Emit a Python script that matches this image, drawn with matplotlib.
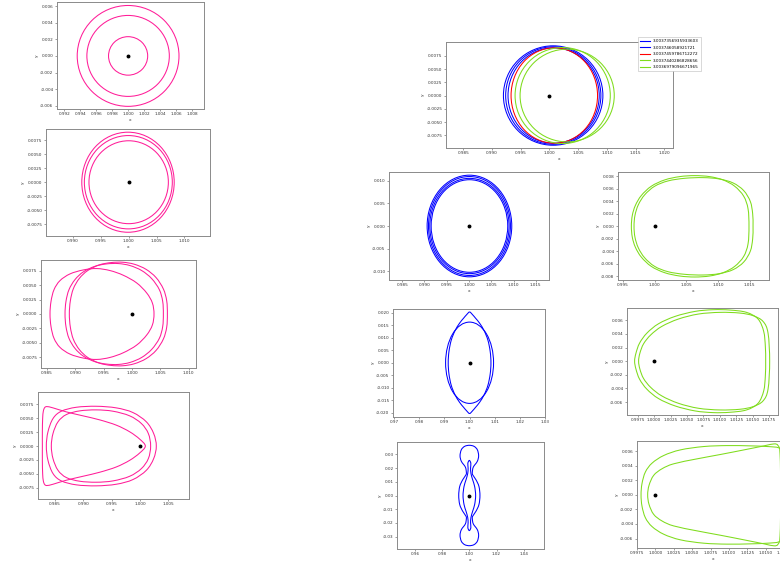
import numpy as np
import matplotlib
matplotlib.use("Agg")
import matplotlib.pyplot as plt
from matplotlib.path import Path
from matplotlib.patches import PathPatch, Ellipse
from matplotlib.lines import Line2D
from matplotlib.ticker import FormatStrFormatter

# ---- data ----
# rings are (centre x, semi-axis x, semi-axis y); loops are upper halves
# (left -> right, y >= 0), the lower half is the mirror image in y = 0

jacobi = ["3.0037356935933603", "3.003746058921721", "3.0037459786712272",
          "3.0037440286828656", "3.0036979096671965"]

# left column (pink)
p1_cx = [1.0, 1.0, 1.0]
p1_ax = [0.00245, 0.00516, 0.00637]
p1_ay = [0.00232, 0.00488, 0.00608]

p2_cx = [1.0, 0.99994, 0.99988]
p2_ax = [0.00713, 0.0079, 0.0083]
p2_ay = [0.0074, 0.00833, 0.00893]

p3_loop_x = [
    [0.98553, 0.98571, 0.98624, 0.98729, 0.98906, 0.99141, 0.99377, 0.99612, 0.99847, 1.00082, 1.00259, 1.00359, 1.00388],
    [0.98818, 0.98835, 0.98888, 0.98994, 0.99141, 0.99347, 0.99553, 0.99759, 0.99965, 1.00171, 1.00347, 1.00482, 1.00541, 1.00553],
    [0.98894, 0.98912, 0.98965, 0.99071, 0.99218, 0.99424, 0.99629, 0.99835, 1.00041, 1.00247, 1.00424, 1.00553, 1.00612, 1.00624],
]
p3_loop_y = [
    [0, 0.00221, 0.00424, 0.00581, 0.00698, 0.00767, 0.00791, 0.00756, 0.00674, 0.00541, 0.00366, 0.00192, 0],
    [0, 0.00221, 0.00424, 0.00599, 0.00733, 0.00831, 0.00872, 0.00878, 0.00843, 0.00756, 0.00616, 0.00424, 0.00221, 0],
    [0, 0.0023, 0.0044, 0.0062, 0.00756, 0.00855, 0.00895, 0.00901, 0.00866, 0.00778, 0.00634, 0.00436, 0.0023, 0],
]

p4_loop_x = [
    [0.98277, 0.98277, 0.98282, 0.98294, 0.98318, 0.98359, 0.98465, 0.987, 0.98994, 0.99288, 0.99582, 0.99818, 0.99994, 1.00094],
    [0.98347, 0.98376, 0.98465, 0.98612, 0.98876, 0.99229, 0.99582, 0.99876, 1.00112, 1.00241, 1.00288],
    [0.98435, 0.98465, 0.98553, 0.987, 0.98935, 0.99229, 0.99524, 0.99818, 1.00024, 1.00147, 1.00188],
]
p4_loop_y = [
    [0, 0.00256, 0.00494, 0.00625, 0.0069, 0.00708, 0.00685, 0.00613, 0.00542, 0.0047, 0.00375, 0.00256, 0.00125, 0],
    [0, 0.00256, 0.00494, 0.00625, 0.00696, 0.00714, 0.00685, 0.00601, 0.00435, 0.00226, 0],
    [0, 0.00226, 0.00435, 0.00565, 0.00631, 0.00649, 0.00625, 0.00542, 0.00405, 0.00226, 0],
]

# overlay with legend: ring -> legend entry
p5_cx = [1.00064, 1.00066, 1.00072, 1.00084, 1.0023, 1.00308]
p5_ax = [0.00866, 0.00829, 0.00794, 0.00753, 0.00829, 0.0082]
p5_ay = [0.00938, 0.0092, 0.009, 0.009, 0.00906, 0.00875]
p5_entry = [0, 0, 1, 2, 3, 4]

# middle column (blue)
p6_cx = [1.0001, 1.0001, 1.0001, 1.0001]
p6_ax = [0.0095, 0.0092, 0.0089, 0.0086]
p6_ay = [0.0112, 0.0109, 0.0105, 0.0102]

p8_cx = [1.0]
p8_ax = [0.00954]
p8_ay = [0.01626]
p8_loop_x = [[0.9915, 0.9918, 0.9927, 0.9942, 0.996, 0.9976, 0.9988, 1.0, 1.0012, 1.0024, 1.004, 1.0058, 1.0073, 1.0082, 1.0085]]
p8_loop_y = [[0, 0.0045, 0.009, 0.0128, 0.0158, 0.0178, 0.0192, 0.0203, 0.0192, 0.0178, 0.0158, 0.0128, 0.009, 0.0045, 0]]

p10_loop_x = [
    [0.9922, 0.99293, 0.99512, 0.99756, 0.9978, 0.99707, 0.99415, 0.99317, 0.99415, 0.99659, 1.0,
     1.00341, 1.00585, 1.00683, 1.00585, 1.00293, 1.0022, 1.00244, 1.00488, 1.00707, 1.0078],
    [0.99537, 0.9961, 0.99756, 0.9988, 0.9991, 0.9989, 1.0, 1.0011, 1.0009, 1.0012, 1.00244, 1.0039, 1.00463],
]
p10_loop_y = [
    [0, 0.00659, 0.01146, 0.01512, 0.0170, 0.02073, 0.02488, 0.029, 0.03341, 0.03585, 0.0366,
     0.03585, 0.03341, 0.029, 0.02488, 0.02073, 0.0170, 0.01512, 0.01146, 0.00659, 0],
    [0, 0.00659, 0.01146, 0.016, 0.02, 0.0235, 0.0256, 0.0235, 0.02, 0.016, 0.01146, 0.00659, 0],
]

# right column (green)
p7_loop_x = [
    [0.99632, 0.99647, 0.99695, 0.99789, 0.99947, 1.00158, 1.00395, 1.00632, 1.00868, 1.01079, 1.01263, 1.01405, 1.01474, 1.01489],
    [0.99674, 0.99689, 0.99742, 0.99842, 1.0, 1.00211, 1.00474, 1.00763, 1.01016, 1.01237, 1.01405, 1.0151, 1.01547, 1.01553],
]
p7_loop_y = [
    [0, 0.00175, 0.00334, 0.00493, 0.00642, 0.00743, 0.00796, 0.00812, 0.00796, 0.00743, 0.00642, 0.00483, 0.00281, 0],
    [0, 0.00175, 0.00345, 0.00504, 0.00642, 0.00727, 0.00769, 0.0078, 0.00759, 0.00695, 0.00573, 0.00398, 0.00202, 0],
]

p9_loop_x = [
    [0.99701, 0.99722, 0.99777, 0.99889, 1.00066, 1.00319, 1.00622, 1.00901, 1.01154, 1.01407, 1.01584, 1.0167, 1.01695, 1.017],
    [0.99762, 0.99782, 0.99838, 0.99949, 1.00116, 1.00369, 1.00673, 1.01002, 1.01305, 1.01508, 1.0166, 1.01736, 1.01761],
]
p9_loop_y = [
    [0, 0.00118, 0.00265, 0.00412, 0.00549, 0.00657, 0.0073, 0.00755, 0.0075, 0.00716, 0.00618, 0.00436, 0.00216, 0],
    [0, 0.00118, 0.00255, 0.00387, 0.0051, 0.00618, 0.00691, 0.00716, 0.00706, 0.00667, 0.00583, 0.00412, 0],
]

p11_loop_x = [
    [0.99805, 0.99818, 0.99864, 0.99955, 1.00114, 1.00341, 1.00659, 1.00977, 1.01295, 1.01523, 1.01682, 1.01795, 1.01841, 1.0185],
    [0.99895, 0.99914, 0.99977, 1.00091, 1.0025, 1.00568, 1.00886, 1.01205, 1.01477, 1.01614, 1.01668, 1.01695, 1.01705],
]
p11_loop_y = [
    [0, 0.00155, 0.00314, 0.00436, 0.00541, 0.00618, 0.00664, 0.00677, 0.00673, 0.00664, 0.00645, 0.00564, 0.00336, 0],
    [0, 0.00132, 0.00268, 0.00359, 0.00427, 0.00495, 0.00555, 0.00618, 0.00673, 0.0070, 0.00677, 0.00564, 0],
]

# tick values
p1_xt = [0.992, 0.994, 0.996, 0.998, 1.000, 1.002, 1.004, 1.006, 1.008]
p1_yt = [-0.006, -0.004, -0.002, 0.0, 0.002, 0.004, 0.006]
y75_t = [-0.0075, -0.005, -0.0025, 0.0, 0.0025, 0.005, 0.0075]
p2_xt = [0.990, 0.995, 1.000, 1.005, 1.010]
p3_xt = [0.985, 0.990, 0.995, 1.000, 1.005, 1.010]
p4_xt = [0.985, 0.990, 0.995, 1.000, 1.005]
p5_xt = [0.985, 0.990, 0.995, 1.000, 1.005, 1.010, 1.015, 1.020]
p6_xt = [0.985, 0.990, 0.995, 1.000, 1.005, 1.010, 1.015]
p6_yt = [-0.010, -0.005, 0.0, 0.005, 0.010]
p7_xt = [0.995, 1.000, 1.005, 1.010, 1.015]
p7_yt = [-0.008, -0.006, -0.004, -0.002, 0.0, 0.002, 0.004, 0.006, 0.008]
p8_xt = [0.97, 0.98, 0.99, 1.00, 1.01, 1.02, 1.03]
p8_yt = [-0.020, -0.015, -0.010, -0.005, 0.0, 0.005, 0.010, 0.015, 0.020]
p9_xt = [0.9975, 1.0, 1.0025, 1.005, 1.0075, 1.01, 1.0125, 1.015, 1.0175]
p9_yt = [-0.006, -0.004, -0.002, 0.0, 0.002, 0.004, 0.006]
p10_xt = [0.96, 0.98, 1.00, 1.02, 1.04]
p10_yt = [-0.03, -0.02, -0.01, 0.0, 0.01, 0.02, 0.03]

PINK = "#ff1d98"
BLUE = "#0000ff"
RED = "#ff0000"
GREEN = "#7fdc1c"
entry_colors = [BLUE, BLUE, RED, GREEN, GREEN]

W, H = 780, 566
fig = plt.figure(figsize=(W / 100, H / 100), dpi=100)


def closed_path(xs, ys):
    # mirror the upper half and run a smooth closed curve through the points
    px = list(xs) + list(xs[-2:0:-1])
    py = list(ys) + [-v for v in ys[-2:0:-1]]
    pts = np.column_stack([px, py])
    n = len(pts)
    verts = [pts[0]]
    codes = [Path.MOVETO]
    for i in range(n):
        p0, p1, p2, p3 = pts[i - 1], pts[i], pts[(i + 1) % n], pts[(i + 2) % n]
        verts += [p1 + (p2 - p0) / 6, p2 - (p3 - p1) / 6, p2]
        codes += [Path.CURVE4] * 3
    return Path(verts, codes)


def panel(box, xlim, ylim, xt, yt, xfmt, yfmt):
    l, t, r, b = box
    ax = fig.add_axes([l / W, 1 - b / H, (r - l) / W, (b - t) / H])
    ax.set_xlim(*xlim)
    ax.set_ylim(*ylim)
    ax.set_xticks(xt)
    ax.set_yticks(yt)
    ax.xaxis.set_major_formatter(FormatStrFormatter(xfmt))
    ax.yaxis.set_major_formatter(FormatStrFormatter(yfmt))
    ax.tick_params(labelsize=3, length=1.5, width=0.4, pad=1, colors="#555555", labelcolor="#333333")
    for s in ax.spines.values():
        s.set_color("#8a8a8a")
        s.set_linewidth(0.7)
    ax.set_xlabel("x", fontsize=3.2, labelpad=1, color="#333333")
    ax.set_ylabel("y", fontsize=3.2, labelpad=1, color="#333333")
    return ax


def rings(ax, cx, a, b, color):
    for c, w, h in zip(cx, a, b):
        ax.add_patch(Ellipse((c, 0), 2 * w, 2 * h, fill=False, edgecolor=color, lw=0.75))


def loops(ax, xs, ys, color):
    for lx, ly in zip(xs, ys):
        ax.add_patch(PathPatch(closed_path(lx, ly), fill=False, edgecolor=color, lw=0.75))


def earth(ax):
    ax.plot([1.0], [0.0], "o", color="black", ms=1.8)


# left column
ax = panel((57, 2, 204, 109), (0.9911, 1.0095), (-0.0064, 0.0065), p1_xt, p1_yt, "%.3f", "%.3f")
rings(ax, p1_cx, p1_ax, p1_ay, PINK)
earth(ax)

ax = panel((46, 129, 210, 236), (0.98515, 1.01461), (-0.0096, 0.0095), p2_xt, y75_t, "%.3f", "%.4f")
rings(ax, p2_cx, p2_ax, p2_ay, PINK)
earth(ax)

ax = panel((41, 260, 196, 368), (0.98394, 1.01129), (-0.0094, 0.0094), p3_xt, y75_t, "%.3f", "%.4f")
loops(ax, p3_loop_x, p3_loop_y, PINK)
earth(ax)

ax = panel((38, 392, 189, 499), (0.9820, 1.00865), (-0.0095, 0.0097), p4_xt, y75_t, "%.3f", "%.4f")
loops(ax, p4_loop_x, p4_loop_y, PINK)
earth(ax)

# overlay with legend
ax = panel((446, 42, 673, 148), (0.98198, 1.02151), (-0.0099, 0.0101), p5_xt, y75_t, "%.3f", "%.4f")
for c, w, h, k in zip(p5_cx, p5_ax, p5_ay, p5_entry):
    ax.add_patch(Ellipse((c, 0), 2 * w, 2 * h, fill=False, edgecolor=entry_colors[k], lw=0.75))
earth(ax)
handles = [Line2D([], [], color=c, lw=0.8) for c in entry_colors]
leg = ax.legend(handles, jacobi, loc="upper left", bbox_to_anchor=(0.846, 1.047),
                borderaxespad=0, fontsize=3, handlelength=2.3, framealpha=1,
                fancybox=False, borderpad=0.5, labelspacing=0.6)
leg.get_frame().set_linewidth(0.4)
leg.get_frame().set_edgecolor("#bbbbbb")

# middle column
ax = panel((389, 172, 549, 280), (0.98204, 1.01796), (-0.0119, 0.0119), p6_xt, p6_yt, "%.3f", "%.3f")
rings(ax, p6_cx, p6_ax, p6_ay, BLUE)
earth(ax)

ax = panel((393, 309, 545, 417), (0.96954, 1.02993), (-0.0217, 0.0215), p8_xt, p8_yt, "%.2f", "%.3f")
rings(ax, p8_cx, p8_ax, p8_ay, BLUE)
loops(ax, p8_loop_x, p8_loop_y, BLUE)
earth(ax)

ax = panel((397, 442, 544, 549), (0.94683, 1.05488), (-0.039, 0.039), p10_xt, p10_yt, "%.2f", "%.2f")
loops(ax, p10_loop_x, p10_loop_y, BLUE)
earth(ax)

# right column
ax = panel((618, 172, 769, 280), (0.99421, 1.01805), (-0.0086, 0.0087), p7_xt, p7_yt, "%.3f", "%.3f")
loops(ax, p7_loop_x, p7_loop_y, GREEN)
earth(ax)

ax = panel((627, 308, 778, 415), (0.99585, 1.01888), (-0.0079, 0.0078), p9_xt, p9_yt, "%.4f", "%.3f")
loops(ax, p9_loop_x, p9_loop_y, GREEN)
earth(ax)

ax = panel((637, 441, 789, 548), (0.9975, 1.01817), (-0.0073, 0.0074), p9_xt, p9_yt, "%.4f", "%.3f")
loops(ax, p11_loop_x, p11_loop_y, GREEN)
earth(ax)

fig.savefig("out.png", dpi=100)
